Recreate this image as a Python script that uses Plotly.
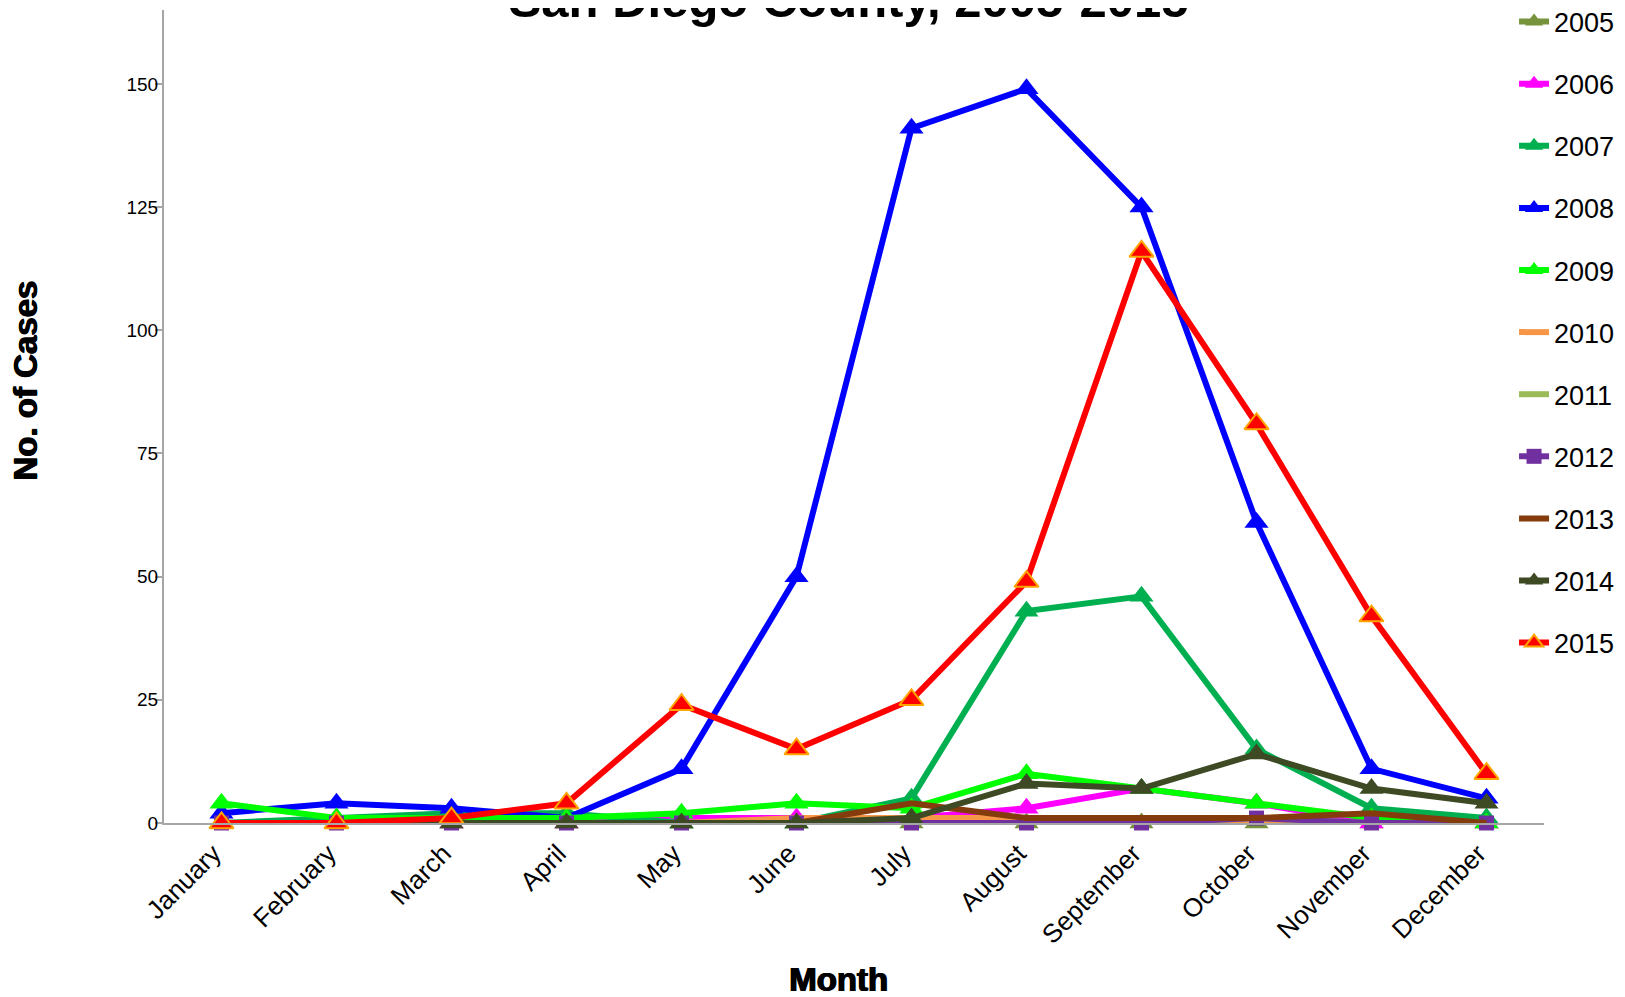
import plotly.graph_objects as go

months = ["January", "February", "March", "April", "May", "June", "July",
          "August", "September", "October", "November", "December"]

y2005 = [0, 0, 0, 0, 0, 0, 0, 0, 0, 0, 0, 0]
y2006 = [0, 0, 0, 0, 1, 1, 1, 3, 7, 4, 0, 0]
y2007 = [0, 1, 2, 2, 0, 0, 5, 43, 46, 15, 3, 1]
y2008 = [2, 4, 3, 1, 11, 50, 141, 149, 125, 61, 11, 5]
y2009 = [4, 1, 1, 1, 2, 4, 3, 10, 7, 4, 1, 0]
y2010 = [0, 0, 0, 0, 0, 1, 1, 1, 0, 0, 0, 0]
y2011 = [0, 0, 0, 0, 0, 0, 0, 0, 0, 1, 0, 0]
y2012 = [0, 0, 0, 0, 0, 0, 0, 0, 0, 1, 0, 0]
y2013 = [0, 0, 0, 0, 0, 0, 4, 1, 1, 1, 2, 0]
y2014 = [0, 0, 0, 0, 0, 0, 1, 8, 7, 14, 7, 4]
y2015 = [0, 0, 1, 4, 24, 15, 25, 49, 116, 81, 42, 10]

series = [
    ("2005", y2005, "#77933C", "triangle-up", None),
    ("2006", y2006, "#FF00FF", "triangle-up", None),
    ("2007", y2007, "#00B050", "triangle-up", None),
    ("2008", y2008, "#0000FF", "triangle-up", None),
    ("2009", y2009, "#00FF00", "triangle-up", None),
    ("2010", y2010, "#F79646", None, None),
    ("2011", y2011, "#9BBB59", None, None),
    ("2012", y2012, "#7030A0", "square", None),
    ("2013", y2013, "#843C0C", None, None),
    ("2014", y2014, "#3D4A24", "triangle-up", None),
    ("2015", y2015, "#FF0000", "triangle-up", "#FFA500"),
]

fig = go.Figure()
for name, ys, color, sym, edge in series:
    kw = {}
    if sym:
        mode = "lines+markers"
        kw["marker"] = dict(symbol=sym, size=21 if sym == "triangle-up" else 15,
                            color=color,
                            line=dict(color=edge if edge else color, width=2 if edge else 0))
    else:
        mode = "lines"
    fig.add_trace(go.Scatter(x=months, y=ys, name=name, mode=mode,
                             line=dict(color=color, width=6),
                             legendgroup=name, cliponaxis=False, **kw))

font = "Liberation Sans, Arial, sans-serif"
heavy = dict(size=33, family=font, color="black", shadow="0.9px 0 0 black, -0.5px 0 0 black")
fig.update_layout(
    width=1625, height=997,
    margin=dict(l=156, r=89, t=2, b=182, autoexpand=False),
    paper_bgcolor="white", plot_bgcolor="white",
    font=dict(family=font, color="black"),
    title=dict(text="<b>San Diego County, 2005-2015</b>",
               font=dict(size=49, family=font, color="black"),
               x=0.5173, xanchor="center", xref="container",
               y=0.9913, yanchor="bottom", yref="container"),
    showlegend=True,
    legend=dict(x=0.9268, xanchor="left", xref="container",
                y=1.0153, yanchor="top", yref="paper",
                font=dict(size=27, family=font, color="black"),
                tracegroupgap=24, bgcolor="rgba(0,0,0,0)", maxheight=1000),
    xaxis=dict(type="category", range=[-0.5, 11.5], showgrid=False,
               showline=True, linecolor="#A6A6A6", linewidth=2,
               ticks="", tickangle=-45, tickfont=dict(size=26, family=font),
               ticklabelstandoff=3, ticklabelshift=-8, zeroline=False),
    yaxis=dict(range=[0, 165], tickvals=[0, 25, 50, 75, 100, 125, 150],
               showgrid=False, showline=True, linecolor="#A6A6A6", linewidth=2,
               ticks="outside", ticklen=7, tickcolor="#A6A6A6", tickwidth=2,
               tickfont=dict(size=19, family=font), ticklabelstandoff=-7,
               zeroline=False),
    annotations=[
        dict(text="<b>No. of Cases</b>", textangle=-90, xref="paper", yref="paper",
             x=-0.1002, y=0.5437, xanchor="center", yanchor="middle", showarrow=False,
             font=heavy),
        dict(text="<b>Month</b>", xref="paper", yref="paper",
             x=0.4891, y=-0.1919, xanchor="center", yanchor="middle", showarrow=False,
             font=heavy),
    ],
)

fig.write_html("out.html")
